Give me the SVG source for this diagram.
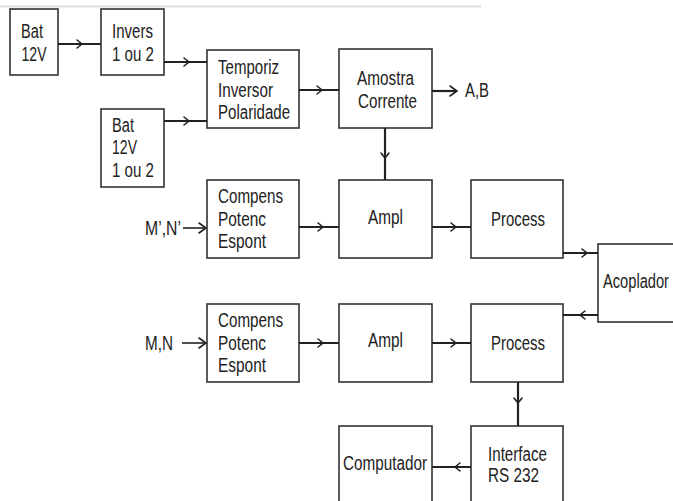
<svg xmlns="http://www.w3.org/2000/svg" width="673" height="501" viewBox="0 0 673 501">
<style>
.box{fill:#fff;stroke:#333;stroke-width:1.6}
.ln{fill:none;stroke:#222;stroke-width:2.2}
.thin{fill:none;stroke:#222;stroke-width:1.6}
.ch{fill:none;stroke:#222;stroke-width:1.6;stroke-linecap:round;stroke-linejoin:miter}
text{font-family:"Liberation Sans",Arial,sans-serif;font-size:20px;fill:#222}
</style>
<defs>
<path id="chev" class="ch" d="M-5,-4 L0,0 L-5,4"/>
<path id="head" class="ch" d="M-7,-5 L0,0 L-7,5"/>
</defs>
<rect width="673" height="501" fill="#fff"/>
<line x1="0" y1="6.5" x2="481" y2="6.5" stroke="#ddd" stroke-width="2"/>

<g id="bat1"><rect class="box" x="10" y="9" width="48" height="66"/>
<text x="21" y="38" textLength="22" lengthAdjust="spacingAndGlyphs">Bat</text>
<text x="21.5" y="61" textLength="25" lengthAdjust="spacingAndGlyphs">12V</text></g>

<g id="invers"><rect class="box" x="101" y="9" width="63" height="66"/>
<text x="112" y="38" textLength="41" lengthAdjust="spacingAndGlyphs">Invers</text>
<text x="112" y="61" textLength="42" lengthAdjust="spacingAndGlyphs">1 ou 2</text></g>

<g id="bat2"><rect class="box" x="101" y="109" width="63" height="78"/>
<text x="112" y="132" textLength="22" lengthAdjust="spacingAndGlyphs">Bat</text>
<text x="112" y="154" textLength="25" lengthAdjust="spacingAndGlyphs">12V</text>
<text x="112" y="177" textLength="42" lengthAdjust="spacingAndGlyphs">1 ou 2</text></g>

<g id="temporiz"><rect class="box" x="207" y="50" width="92" height="78"/>
<text x="218" y="74" textLength="61" lengthAdjust="spacingAndGlyphs">Temporiz</text>
<text x="218" y="97" textLength="55" lengthAdjust="spacingAndGlyphs">Inversor</text>
<text x="218" y="119" textLength="72" lengthAdjust="spacingAndGlyphs">Polaridade</text></g>

<g id="amostra"><rect class="box" x="339" y="49" width="93" height="79"/>
<text x="357" y="85" textLength="57" lengthAdjust="spacingAndGlyphs">Amostra</text>
<text x="358" y="108" textLength="59" lengthAdjust="spacingAndGlyphs">Corrente</text></g>

<g id="compens1"><rect class="box" x="207" y="180" width="92" height="78"/>
<text x="218" y="203" textLength="65" lengthAdjust="spacingAndGlyphs">Compens</text>
<text x="218" y="226" textLength="48" lengthAdjust="spacingAndGlyphs">Potenc</text>
<text x="218" y="248" textLength="48" lengthAdjust="spacingAndGlyphs">Espont</text></g>

<g id="ampl1"><rect class="box" x="339" y="180" width="93" height="78"/>
<text x="368" y="224" textLength="35" lengthAdjust="spacingAndGlyphs">Ampl</text></g>

<g id="process1"><rect class="box" x="471" y="180" width="92" height="78"/>
<text x="491" y="226" textLength="54" lengthAdjust="spacingAndGlyphs">Process</text></g>

<g id="acoplador"><rect class="box" x="598" y="244" width="80" height="78"/>
<text x="603" y="288" textLength="66" lengthAdjust="spacingAndGlyphs">Acoplador</text></g>

<g id="compens2"><rect class="box" x="207" y="304" width="92" height="78"/>
<text x="218" y="327" textLength="65" lengthAdjust="spacingAndGlyphs">Compens</text>
<text x="218" y="350" textLength="48" lengthAdjust="spacingAndGlyphs">Potenc</text>
<text x="218" y="372" textLength="48" lengthAdjust="spacingAndGlyphs">Espont</text></g>

<g id="ampl2"><rect class="box" x="339" y="304" width="93" height="78"/>
<text x="368" y="347" textLength="35" lengthAdjust="spacingAndGlyphs">Ampl</text></g>

<g id="process2"><rect class="box" x="471" y="304" width="92" height="78"/>
<text x="491" y="350" textLength="54" lengthAdjust="spacingAndGlyphs">Process</text></g>

<g id="computador"><rect class="box" x="339" y="426" width="93" height="90"/>
<text x="343" y="470" textLength="84" lengthAdjust="spacingAndGlyphs">Computador</text></g>

<g id="interface"><rect class="box" x="471" y="426" width="92" height="90"/>
<text x="488" y="461" textLength="59" lengthAdjust="spacingAndGlyphs">Interface</text>
<text x="488" y="482" textLength="51" lengthAdjust="spacingAndGlyphs">RS 232</text></g>

<g id="labels">
<text x="465" y="97" textLength="24" lengthAdjust="spacingAndGlyphs">A,B</text>
<text x="145" y="235" textLength="36" lengthAdjust="spacingAndGlyphs">M’,N’</text>
<text x="145" y="350" textLength="28" lengthAdjust="spacingAndGlyphs">M,N</text>
</g>

<g id="connectors">
<line class="ln" x1="58" y1="44" x2="101" y2="44"/><use href="#chev" transform="translate(82,44)"/>
<line class="ln" x1="164" y1="62" x2="207" y2="62"/><use href="#chev" transform="translate(189,62)"/>
<line class="ln" x1="164" y1="121" x2="207" y2="121"/><use href="#chev" transform="translate(189,121)"/>
<line class="ln" x1="299" y1="90" x2="339" y2="90"/><use href="#chev" transform="translate(322,90)"/>
<line class="ln" x1="432" y1="91" x2="456" y2="91"/><use href="#head" transform="translate(457,91)"/>
<line class="ln" x1="385" y1="128" x2="385" y2="180"/><use href="#chev" transform="translate(385,158) rotate(90)"/>
<line class="ln" x1="299" y1="227" x2="339" y2="227"/><use href="#chev" transform="translate(323,227)"/>
<line class="ln" x1="432" y1="227" x2="471" y2="227"/><use href="#chev" transform="translate(456,227)"/>
<line class="thin" x1="183" y1="228" x2="205" y2="228"/><use href="#head" transform="translate(206,228)"/>
<line class="ln" x1="563" y1="253" x2="598" y2="253"/><use href="#chev" transform="translate(587,253)"/>
<line class="ln" x1="598" y1="315" x2="563" y2="315"/><use href="#chev" transform="translate(580,315) rotate(180)"/>
<line class="ln" x1="299" y1="343" x2="339" y2="343"/><use href="#chev" transform="translate(323,343)"/>
<line class="ln" x1="432" y1="343" x2="471" y2="343"/><use href="#chev" transform="translate(456,343)"/>
<line class="thin" x1="182" y1="343" x2="205" y2="343"/><use href="#head" transform="translate(206,343)"/>
<line class="ln" x1="518" y1="382" x2="518" y2="426"/><use href="#chev" transform="translate(518,403) rotate(90)"/>
<line class="ln" x1="471" y1="467" x2="432" y2="467"/><use href="#chev" transform="translate(455,467) rotate(180)"/>
</g>
</svg>
